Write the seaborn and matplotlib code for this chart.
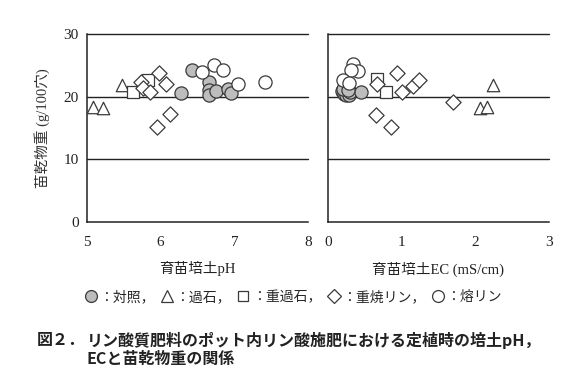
import matplotlib
matplotlib.use("Agg")
import matplotlib.pyplot as plt
from matplotlib.lines import Line2D
import seaborn as sns
import pandas as pd

# ---- data ----
ctrl_ph = [6.28, 6.42, 6.66, 6.66, 6.66, 6.75, 6.91, 6.95]
ctrl_dw_ph = [20.6, 24.2, 22.4, 21.1, 20.3, 20.9, 21.2, 20.6]
kaseki_ph = [5.08, 5.22, 5.48]
kaseki_dw_ph = [18.3, 18.2, 21.8]
jukaseki_ph = [5.63, 5.83]
jukaseki_dw_ph = [20.7, 22.7]
jushorin_ph = [5.73, 5.76, 5.85, 5.98, 6.07, 6.12, 5.95]
jushorin_dw_ph = [22.4, 21.4, 20.7, 23.8, 22.0, 17.2, 15.2]
yoorin_ph = [6.56, 6.72, 6.84, 7.05, 7.42]
yoorin_dw_ph = [24.0, 25.0, 24.2, 22.0, 22.4]

ctrl_ec = [0.19, 0.22, 0.25, 0.28, 0.30, 0.45, 0.20, 0.27]
ctrl_dw_ec = [20.9, 20.5, 20.2, 20.3, 20.8, 20.7, 21.3, 21.0]
kaseki_ec = [2.06, 2.16, 2.24]
kaseki_dw_ec = [18.2, 18.4, 21.8]
jukaseki_ec = [0.66, 0.79]
jukaseki_dw_ec = [22.8, 20.7]
jushorin_ec = [0.67, 0.94, 1.01, 1.16, 1.23, 0.65, 0.85, 1.70]
jushorin_dw_ec = [22.0, 23.8, 20.7, 21.7, 22.6, 17.1, 15.2, 19.2]
yoorin_ec = [0.34, 0.41, 0.31, 0.20, 0.28]
yoorin_dw_ec = [25.2, 24.1, 24.3, 22.6, 22.2]

labels = ["対照", "過石", "重過石", "重焼リン", "熔リン"]
y_ticks = [0, 10, 20, 30]
ph_ticks = [5, 6, 7, 8]
ec_ticks = [0, 1, 2, 3]

sns.set_theme(style="white")
plt.rcParams['font.family'] = ['Liberation Serif', 'Noto Sans CJK JP', 'DejaVu Sans']

GRAY = "#bdbdbd"
EDGE = "#3a3a3a"
styles = [
    dict(marker="o", color=GRAY, s=90),
    dict(marker="^", color="white", s=80),
    dict(marker="s", color="white", s=75),
    dict(marker="D", color="white", s=60),
    dict(marker="o", color="white", s=90),
]

fig = plt.figure(figsize=(5.85, 3.83), dpi=100)
axL = fig.add_axes([87/585, 1-222/383, 221/585, 188/383])
axR = fig.add_axes([328/585, 1-222/383, 221/585, 188/383])

ph_sets = [(ctrl_ph, ctrl_dw_ph), (kaseki_ph, kaseki_dw_ph), (jukaseki_ph, jukaseki_dw_ph),
           (jushorin_ph, jushorin_dw_ph), (yoorin_ph, yoorin_dw_ph)]
ec_sets = [(ctrl_ec, ctrl_dw_ec), (kaseki_ec, kaseki_dw_ec), (jukaseki_ec, jukaseki_dw_ec),
           (jushorin_ec, jushorin_dw_ec), (yoorin_ec, yoorin_dw_ec)]

for ax, sets, xt in [(axL, ph_sets, ph_ticks), (axR, ec_sets, ec_ticks)]:
    for (xs, ys), st, lab in zip(sets, styles, labels):
        df = pd.DataFrame({"x": xs, "y": ys})
        sns.scatterplot(data=df, x="x", y="y", ax=ax, marker=st["marker"], s=st["s"],
                        color=st["color"], edgecolor=EDGE, linewidth=0.9, zorder=3, legend=False)
    ax.set_xlim(xt[0], xt[-1])
    ax.set_ylim(0, 30)
    ax.set_xticks(xt)
    ax.set_xticklabels([str(v) for v in xt])
    ax.set_yticks(y_ticks)
    for yv in [10, 20, 30]:
        ax.axhline(yv, color="#222222", lw=1.0, zorder=1, clip_on=False)
    for side in ["top", "right"]:
        ax.spines[side].set_visible(False)
    for side in ["left", "bottom"]:
        ax.spines[side].set_color("#222222")
        ax.spines[side].set_linewidth(1.1)
    ax.tick_params(axis="x", direction="in", length=3.5, width=1.0, color="#222222",
                   pad=10, labelsize=11, labelcolor="#222222")
    ax.tick_params(axis="y", length=0, pad=6, labelsize=11, labelcolor="#222222")
    ax.set_ylabel("")

axR.set_yticklabels([])
axL.set_xlabel("育苗培土pH", fontsize=10.5, color="#222222", labelpad=9)
axR.set_xlabel("育苗培土EC (mS/cm)", fontsize=10.5, color="#222222", labelpad=9)
axL.set_ylabel("苗乾物重 (g/100穴)", fontsize=10.5, color="#333333", labelpad=10)

handles = [Line2D([], [], linestyle="none", marker=st["marker"], markersize=(st["s"] ** 0.5) * 0.9,
                  markerfacecolor=st["color"], markeredgecolor=EDGE, markeredgewidth=0.9)
           for st in styles]
leg_labels = ["：対照，", "：過石，", "：重過石，", "：重焼リン，", "：熔リン"]
fig.legend(handles, leg_labels, loc="center", bbox_to_anchor=(292/585, 1-297/383), ncol=5,
           frameon=False, handletextpad=0.0, columnspacing=0.3, handlelength=1.2,
           prop={"family": ["Noto Sans CJK JP"], "size": 10})

cap_font = ["Noto Sans CJK JP", "DejaVu Sans"]
fig.text(37/585, 1-340/383, "図２．", fontsize=11.5, fontweight="bold", family=cap_font,
         va="center", ha="left", color="#222222")
fig.text(87/585, 1-340/383, "リン酸質肥料のポット内リン酸施肥における定植時の培土pH，",
         fontsize=11.5, fontweight="bold", family=cap_font, va="center", ha="left", color="#222222")
fig.text(87/585, 1-359/383, "ECと苗乾物重の関係", fontsize=11.5, fontweight="bold",
         family=cap_font, va="center", ha="left", color="#222222")

fig.savefig("out.png", dpi=100)
